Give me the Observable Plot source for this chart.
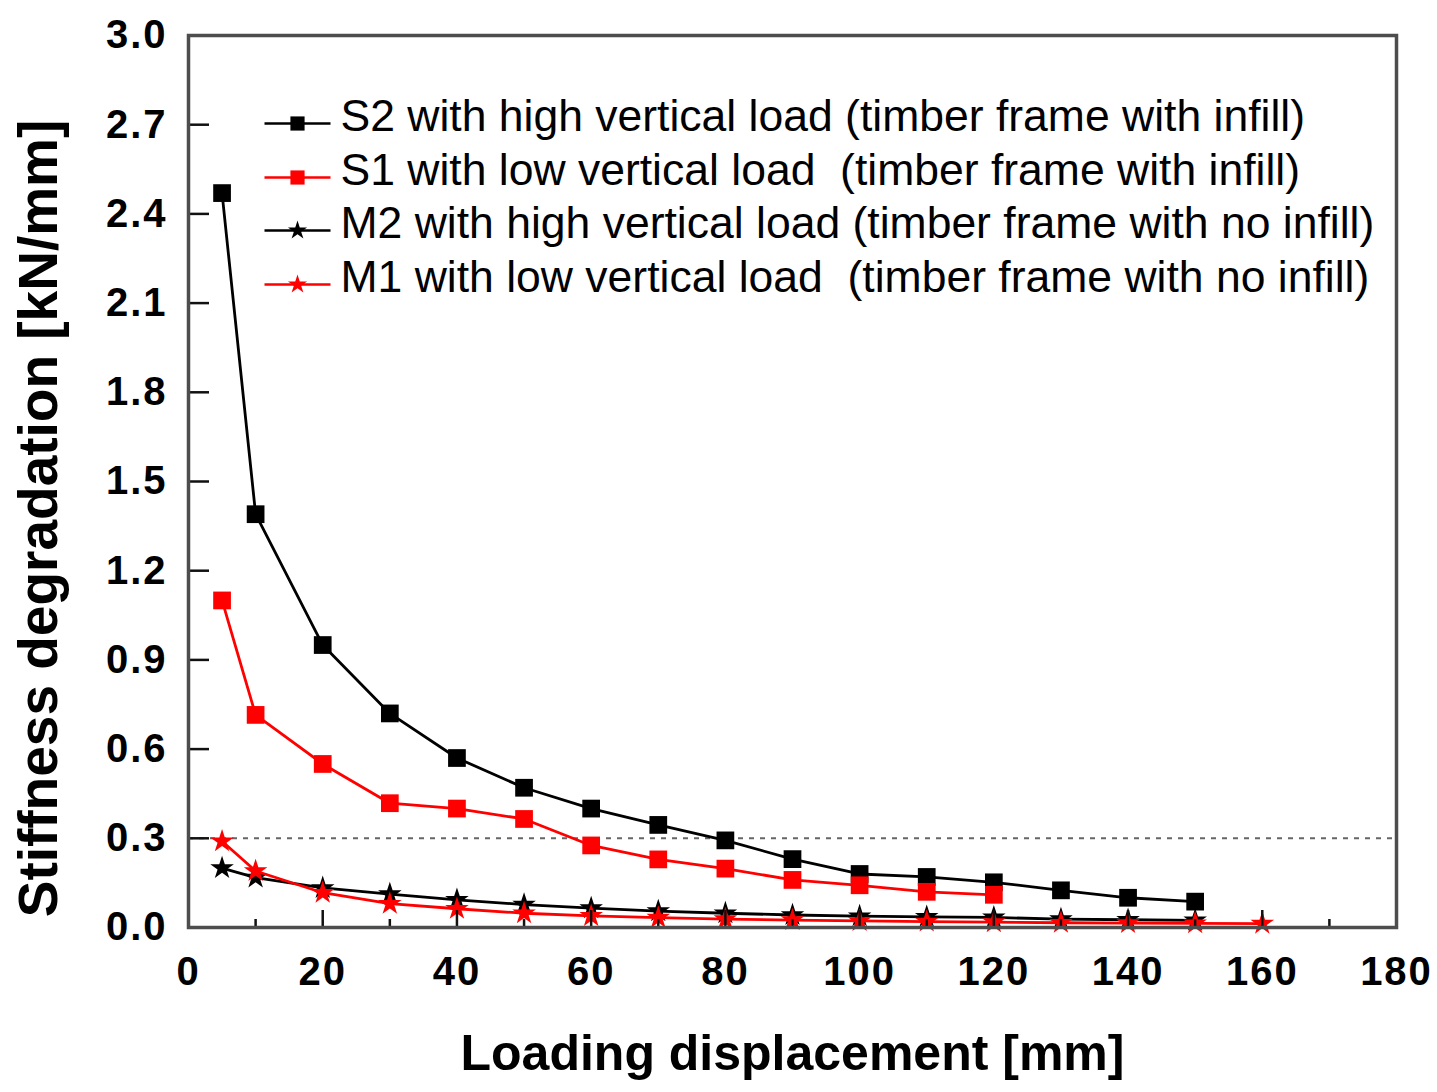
<!DOCTYPE html>
<html>
<head>
<meta charset="utf-8">
<script src="https://cdn.jsdelivr.net/npm/d3@7"></script>
<script src="https://cdn.jsdelivr.net/npm/@observablehq/plot@0.6"></script>
<style>
  html, body { margin: 0; padding: 0; background: #fff; }
  #chart svg { display: block; }
  #chart g[aria-label="x-axis tick label"] text,
  #chart g[aria-label="y-axis tick label"] text { letter-spacing: 2px; }
</style>
</head>
<body>
<div id="chart"></div>
<script>
// ---- data ----
const s2X = [5, 10, 20, 30, 40, 50, 60, 70, 80, 90, 100, 110, 120, 130, 140, 150];
const s2Y = [2.47, 1.39, 0.95, 0.72, 0.57, 0.47, 0.40, 0.345, 0.293, 0.23, 0.18, 0.17, 0.152, 0.125, 0.10, 0.087];

const s1X = [5, 10, 20, 30, 40, 50, 60, 70, 80, 90, 100, 110, 120];
const s1Y = [1.10, 0.715, 0.55, 0.418, 0.40, 0.365, 0.276, 0.229, 0.198, 0.16, 0.142, 0.12, 0.11];

const m2X = [5, 10, 20, 30, 40, 50, 60, 70, 80, 90, 100, 110, 120, 130, 140, 150];
const m2Y = [0.20, 0.168, 0.133, 0.112, 0.093, 0.077, 0.065, 0.055, 0.048, 0.042, 0.038, 0.036, 0.034, 0.028, 0.026, 0.024];

const m1X = [5, 10, 20, 30, 40, 50, 60, 70, 80, 90, 100, 110, 120, 130, 140, 150, 160];
const m1Y = [0.29, 0.19, 0.117, 0.08, 0.063, 0.048, 0.039, 0.033, 0.028, 0.025, 0.022, 0.02, 0.018, 0.016, 0.015, 0.014, 0.013];

const seriesNames = [
  "S2 with high vertical load (timber frame with infill)",
  "S1 with low vertical load\u00a0 (timber frame with infill)",
  "M2 with high vertical load (timber frame with no infill)",
  "M1 with low vertical load\u00a0 (timber frame with no infill)"
];
const seriesColors = ["#000000", "#ff0000", "#000000", "#ff0000"];
const seriesSymbols = ["square", "square", "star", "star"];

const xTickLabels = [0, 20, 40, 60, 80, 100, 120, 140, 160, 180];
const xMinorTicks = [10, 30, 50, 70, 90, 110, 130, 150, 170];
const yTickLabels = [0, 0.3, 0.6, 0.9, 1.2, 1.5, 1.8, 2.1, 2.4, 2.7, 3.0];
const refLineY = [0.3];

const xTitle = "Loading displacement [mm]";
const yTitle = "Stiffness degradation [kN/mm]";

// ---- layout ----
const W = 1437, H = 1092;
const mL = 188, mR = 41, mT = 35, mB = 165;
const plotW = W - mL - mR, plotH = H - mT - mB;

const xsAll = [s2X, s1X, m2X, m1X];
const ysAll = [s2Y, s1Y, m2Y, m1Y];
const tables = xsAll.map((xs, i) => xs.map((x, j) => ({x, y: ysAll[i][j]})));

const legendLine = {
  draw(ctx) { ctx.moveTo(-33, 0); ctx.lineTo(33, 0); }
};

const marks = [];

// reference dashed line
marks.push(Plot.ruleY(refLineY, {stroke: "#666", strokeWidth: 2, strokeDasharray: "5,6"}));

// series
tables.forEach((t, i) => {
  const isStar = seriesSymbols[i] === "star";
  marks.push(Plot.line(t, {x: "x", y: "y", stroke: seriesColors[i], strokeWidth: 2.8}));
  marks.push(Plot.dot(t, {
    x: "x", y: "y", symbol: seriesSymbols[i], fill: seriesColors[i], stroke: "none",
    r: isStar ? 7.4 : 10
  }));
});

// inward ticks
marks.push(Plot.ruleX(xTickLabels, {x: d => d, insetTop: plotH - 17, stroke: "#111", strokeWidth: 2.5}));
marks.push(Plot.ruleX(xMinorTicks, {x: d => d, insetTop: plotH - 8, stroke: "#111", strokeWidth: 2.5}));
marks.push(Plot.ruleY(yTickLabels, {y: d => d, insetRight: plotW - 21, stroke: "#111", strokeWidth: 2.5}));

// frame
marks.push(Plot.frame({stroke: "#4d4d4d", strokeWidth: 3.5}));

// axes (labels only)
marks.push(Plot.axisX({
  ticks: xTickLabels, tickSize: 0, tickPadding: 29, label: null,
  fontSize: 40, fontWeight: "bold", fill: "#000"
}));
marks.push(Plot.axisY({
  ticks: yTickLabels, tickFormat: d => d.toFixed(1), tickSize: 0, tickPadding: 21, label: null,
  fontSize: 40, fontWeight: "bold", fill: "#000"
}));

// axis titles
marks.push(Plot.text([xTitle], {
  frameAnchor: "bottom", dy: 126, fontSize: 50, fontWeight: "bold", fill: "#000",
  textAnchor: "middle", lineAnchor: "middle"
}));
marks.push(Plot.text([yTitle], {
  frameAnchor: "left", dx: -149, dy: 37, rotate: -90, fontSize: 55, fontWeight: "bold", fill: "#000",
  textAnchor: "middle", lineAnchor: "middle"
}));

// legend
const legendRowDy = [88, 142, 195, 249];
seriesNames.forEach((name, i) => {
  const isStar = seriesSymbols[i] === "star";
  marks.push(Plot.dot([0], {
    frameAnchor: "top-left", dx: 109, dy: legendRowDy[i], symbol: legendLine,
    fill: "none", stroke: seriesColors[i], strokeWidth: 2.6
  }));
  marks.push(Plot.dot([0], {
    frameAnchor: "top-left", dx: 109, dy: legendRowDy[i], symbol: seriesSymbols[i],
    fill: seriesColors[i], stroke: "none", r: isStar ? 6 : 8
  }));
  marks.push(Plot.text([name], {
    frameAnchor: "top-left", dx: 152, dy: legendRowDy[i] - 7, textAnchor: "start", lineAnchor: "middle",
    fontSize: 44.5, fill: "#000"
  }));
});

const chart = Plot.plot({
  width: W, height: H,
  marginLeft: mL, marginRight: mR, marginTop: mT, marginBottom: mB,
  x: {domain: [0, 180]},
  y: {domain: [0, 3]},
  style: {fontFamily: "'Liberation Sans', Arial, sans-serif", background: "#fff", color: "#000"},
  marks
});
document.getElementById("chart").appendChild(chart);
</script>
</body>
</html>
